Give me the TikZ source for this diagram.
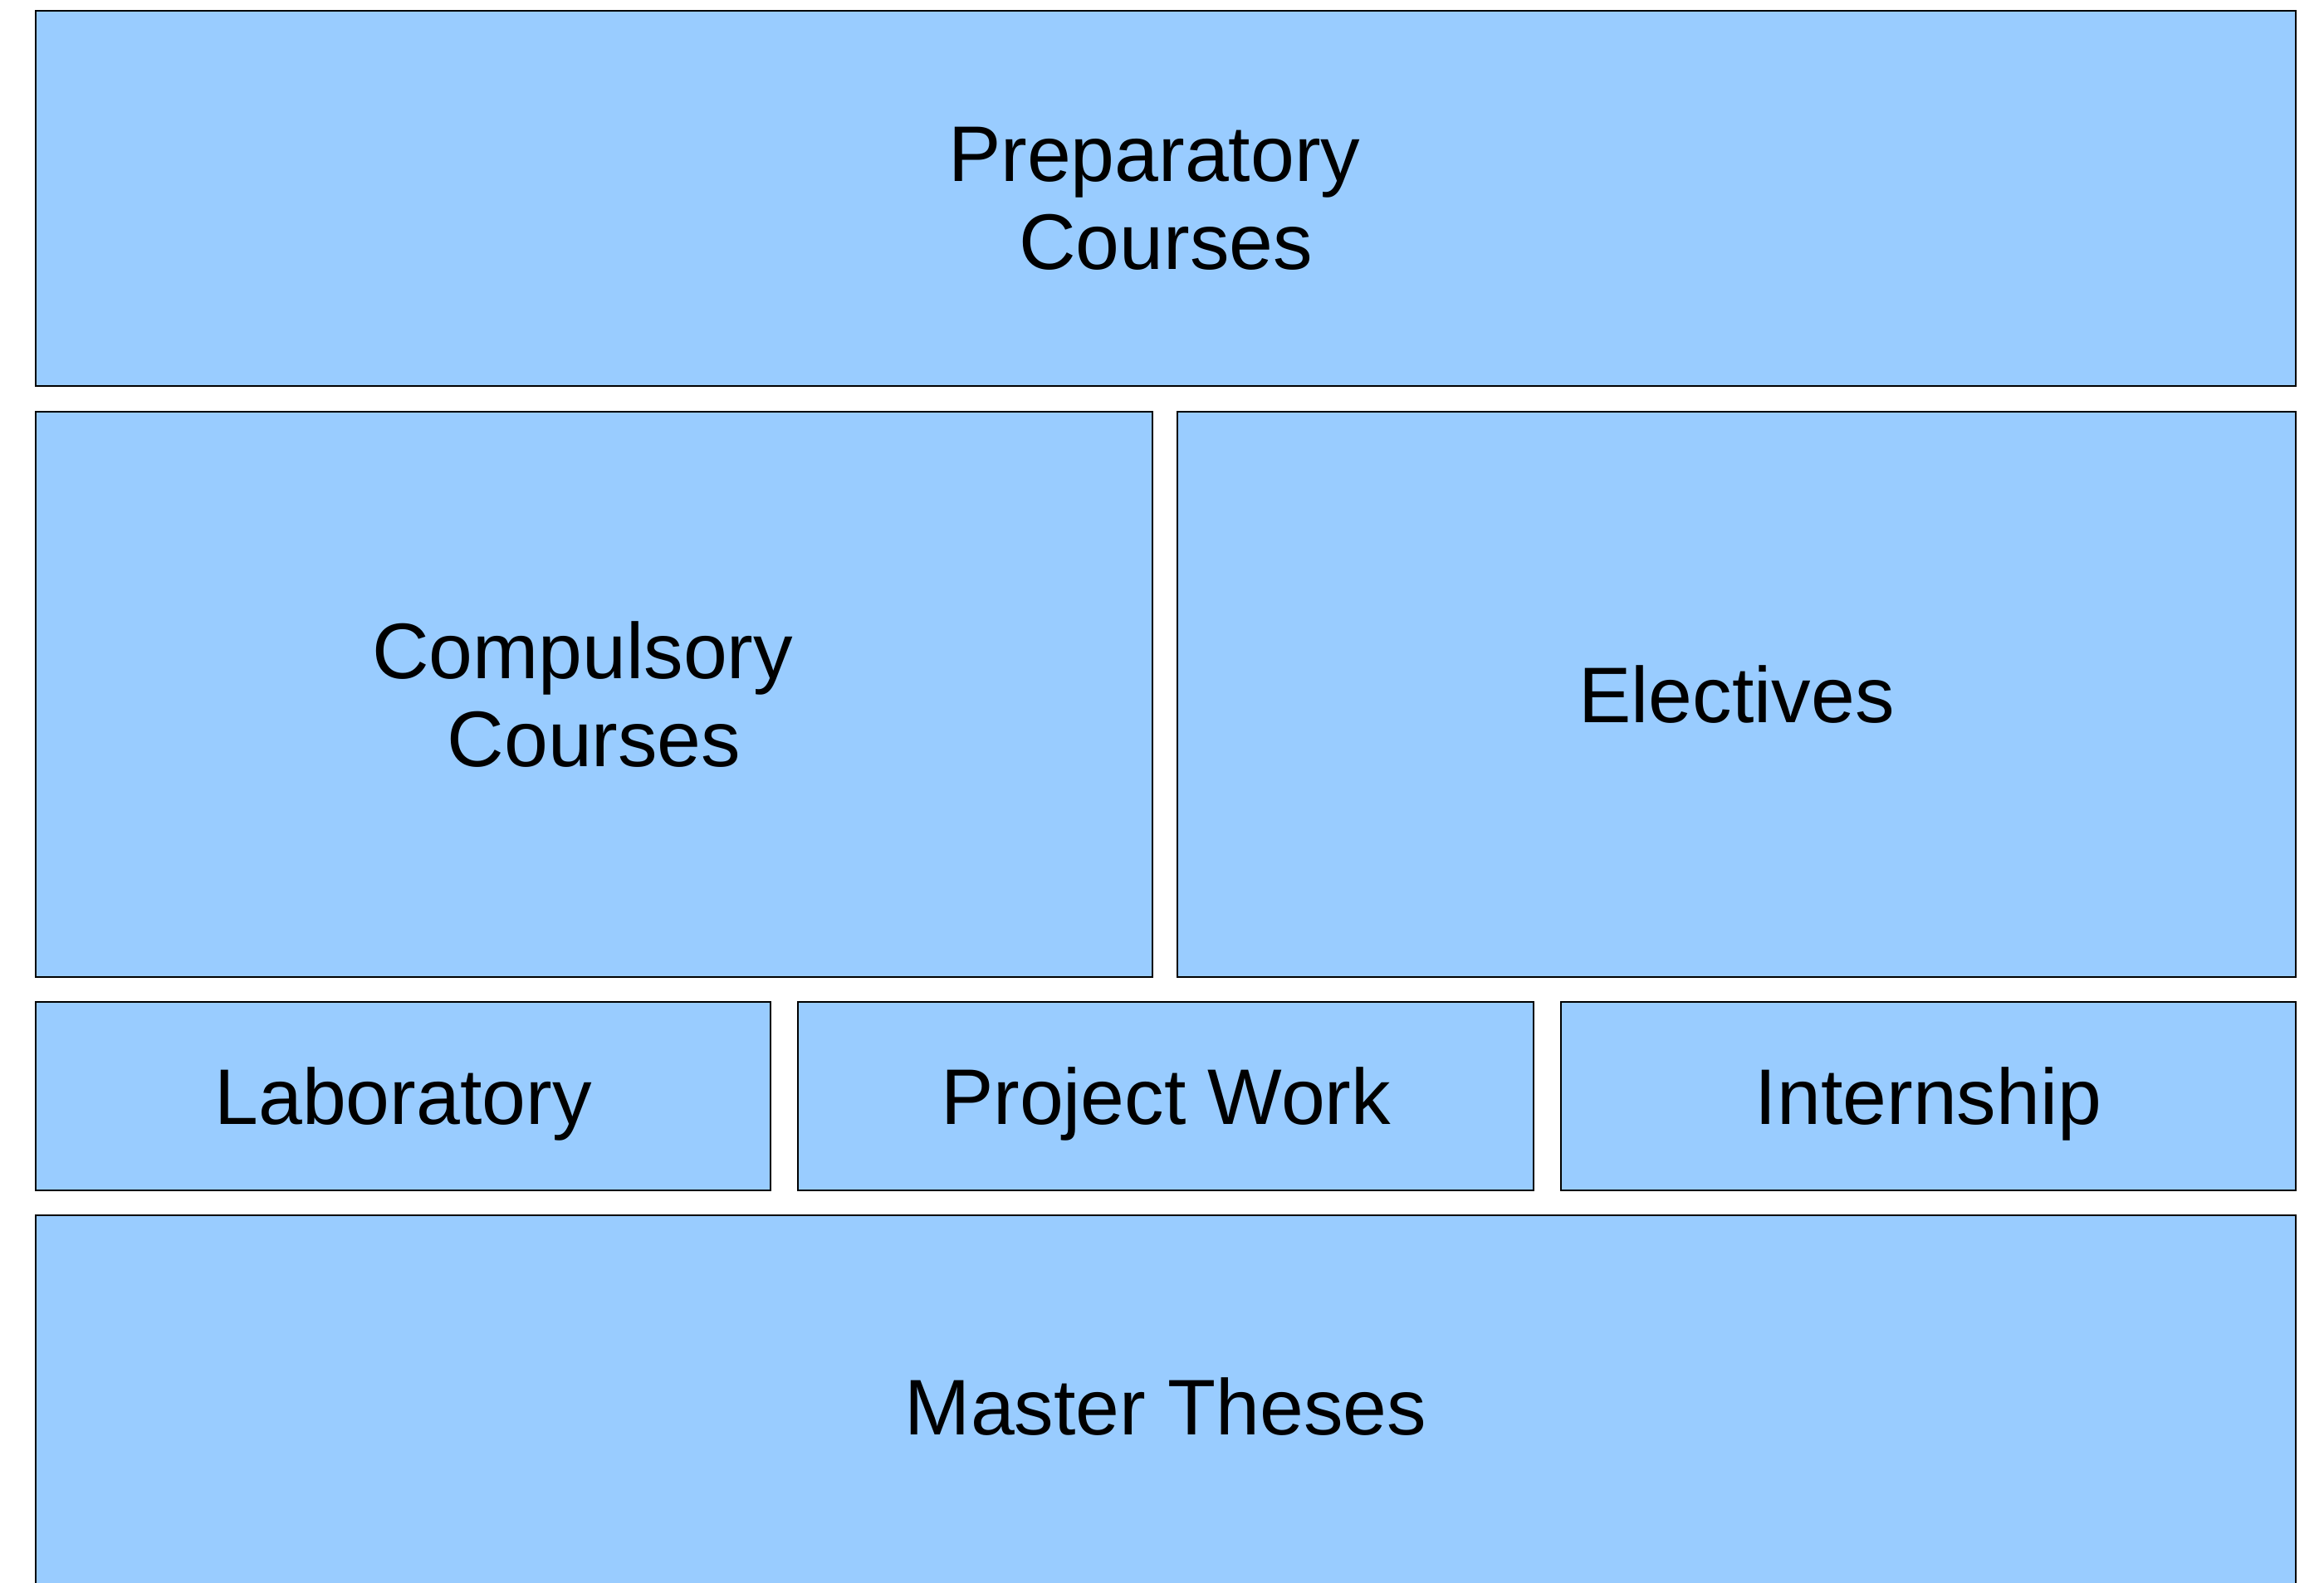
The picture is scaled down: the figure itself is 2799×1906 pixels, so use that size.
\documentclass[tikz,border=0pt]{standalone}
\usepackage{fontspec}
\setmainfont{Liberation Sans}
\definecolor{boxblue}{HTML}{99CCFF}
\begin{document}
\begin{tikzpicture}[x=1pt,y=-1pt,
  blockbox/.style={draw=black, fill=boxblue, line width=2.5pt, rectangle,
    inner sep=0pt, outer sep=0pt, align=center,
    font=\fontsize{95}{106}\selectfont, text=black},
  oneline/.style={text height=68pt, text depth=0pt}]
\useasboundingbox (0,0) rectangle (2799,1906);
\clip (0,0) rectangle (2799,1906);
\node[blockbox, minimum width=2722pt, minimum height=452pt] (prep) at (1404,239) {Preparatory\hspace*{0.29em}\\Courses};
\node[blockbox, minimum width=1345pt, minimum height=681pt] (comp) at (715.5,836.5) {Compulsory\hspace*{0.29em}\\Courses};
\node[blockbox, oneline, minimum width=1347pt, minimum height=681pt] (elec) at (2091.5,836.5) {Electives};
\node[blockbox, oneline, minimum width=885pt, minimum height=227pt] (lab) at (485.5,1320.5) {Laboratory};
\node[blockbox, oneline, minimum width=886pt, minimum height=227pt] (proj) at (1404,1320.5) {Project Work};
\node[blockbox, oneline, minimum width=885pt, minimum height=227pt] (intern) at (2322.5,1320.5) {Internship};
\node[blockbox, oneline, minimum width=2722pt, minimum height=460pt] (master) at (1404,1694) {Master Theses};
\end{tikzpicture}
\end{document}
